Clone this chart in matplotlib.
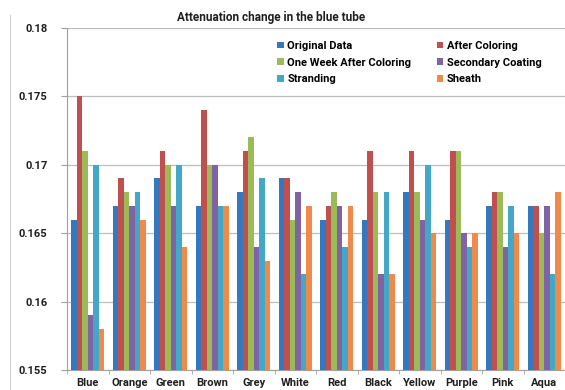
import numpy as np
import matplotlib.pyplot as plt
from matplotlib.lines import Line2D

plt.rcParams['font.family'] = ['Roboto', 'DejaVu Sans']

groups = ['Blue', 'Orange', 'Green', 'Brown', 'Grey', 'White', 'Red',
          'Black', 'Yellow', 'Purple', 'Pink', 'Aqua']

original   = [0.166, 0.167, 0.169, 0.167, 0.168, 0.169, 0.166, 0.166, 0.168, 0.166, 0.167, 0.167]
after_col  = [0.175, 0.169, 0.171, 0.174, 0.171, 0.169, 0.167, 0.171, 0.171, 0.171, 0.168, 0.167]
one_week   = [0.171, 0.168, 0.170, 0.170, 0.172, 0.166, 0.168, 0.168, 0.168, 0.171, 0.168, 0.165]
secondary  = [0.159, 0.167, 0.167, 0.170, 0.164, 0.168, 0.167, 0.162, 0.166, 0.165, 0.164, 0.167]
stranding  = [0.170, 0.168, 0.170, 0.167, 0.169, 0.162, 0.164, 0.168, 0.170, 0.164, 0.167, 0.162]
sheath     = [0.158, 0.166, 0.164, 0.167, 0.163, 0.167, 0.167, 0.162, 0.165, 0.165, 0.165, 0.168]

series = [
    ('Original Data', original, '#3479bd'),
    ('After Coloring', after_col, '#c0504d'),
    ('One Week After Coloring', one_week, '#9bbb59'),
    ('Secondary Coating', secondary, '#7f63a3'),
    ('Stranding', stranding, '#43a8c8'),
    ('Sheath', sheath, '#f08a4b'),
]

fig = plt.figure(figsize=(5.65, 3.9), dpi=100)
ax = fig.add_axes([67/565, 20/390, 498/565, 342/390])

x = np.arange(len(groups))
w = 0.1325
bars = {}
for i, (name, vals, col) in enumerate(series):
    bars[name] = ax.bar(x + (i - 2.5) * w, vals, w, bottom=0, color=col, label=name, zorder=3)

ax.set_xlim(-0.5, len(groups) - 0.5)
ax.set_ylim(0.155, 0.18)
ax.set_yticks([0.155, 0.16, 0.165, 0.17, 0.175, 0.18])
ax.set_yticklabels(['0.155', '0.16', '0.165', '0.17', '0.175', '0.18'])
ax.yaxis.grid(True, color='#bdbdbd', lw=0.9, zorder=0)

for s in ['top', 'right']:
    ax.spines[s].set_visible(False)
ax.spines['left'].set_color('#a0a0a0')
ax.spines['bottom'].set_color('#a0a0a0')

ax.set_xticks(x)
ax.set_xticklabels(groups)
ax.set_xticks(np.arange(-0.5, len(groups)), minor=True)
ax.tick_params(axis='x', which='major', length=0, pad=6)
ax.tick_params(axis='x', which='minor', length=3, color='#a0a0a0')
ax.tick_params(axis='y', length=4, color='#a0a0a0', pad=10)
for lab in ax.get_xticklabels() + ax.get_yticklabels():
    lab.set_fontweight('bold')
    lab.set_fontsize(8)
    lab.set_color('#202020')

fig.text(271/565, 1 - 18/390, 'Attenuation change in the blue tube',
         ha='center', va='center', fontsize=8.5, fontweight='bold', color='#202020')

order = ['Original Data', 'One Week After Coloring', 'Stranding',
         'After Coloring', 'Secondary Coating', 'Sheath']
leg = ax.legend([bars[n] for n in order], order, ncol=2, frameon=False,
                loc='upper left', bbox_to_anchor=(206/498, 0.975),
                prop={'weight': 'bold', 'size': 8},
                handlelength=0.55, handleheight=0.55, handletextpad=0.35,
                columnspacing=2.3, labelspacing=0.6, borderaxespad=0)

fig.add_artist(Line2D([10/565, 10/565], [0, 1 - 15/390], color='#d0d0d0', lw=0.8))

fig.savefig('out.png', dpi=100)
